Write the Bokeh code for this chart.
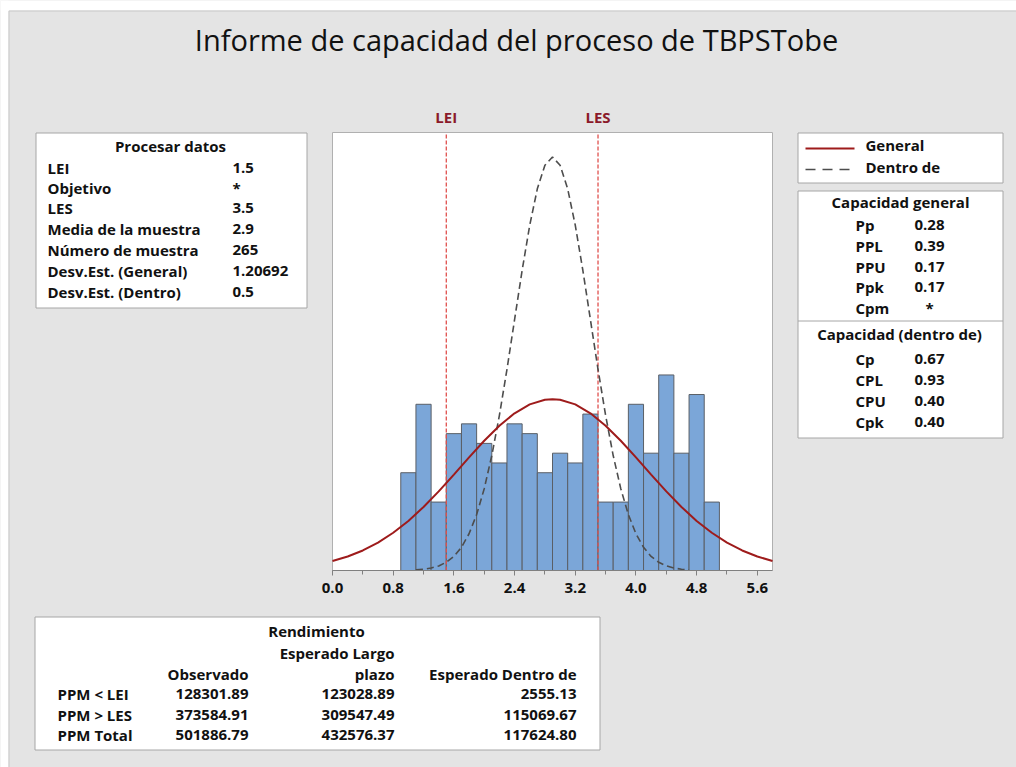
from bokeh.plotting import figure
from bokeh.models import (Range1d, LinearAxis, FixedTicker, SingleIntervalTicker,
                          NumeralTickFormatter)
from bokeh.embed import file_html
from bokeh.resources import INLINE
from bokeh.core.properties import value

# ---------------- data ----------------
title_text = "Informe de capacidad del proceso de TBPSTobe"

bin_edges = [0.9, 1.1, 1.3, 1.5, 1.7, 1.9, 2.1, 2.3, 2.5, 2.7, 2.9, 3.1,
             3.3, 3.5, 3.7, 3.9, 4.1, 4.3, 4.5, 4.7, 4.9, 5.1]
counts = [10, 17, 7, 14, 15, 13, 11, 15, 14, 10, 12, 11, 16, 7, 7, 17, 12, 20, 12, 18, 7]

spec_values = [1.5, 3.5]
spec_names = ["LEI", "LES"]

overall_x = [0.0, 0.2, 0.4, 0.6, 0.8, 1.0, 1.2, 1.4, 1.6, 1.8, 2.0, 2.2, 2.4, 2.6, 2.8, 2.9,
             3.0, 3.2, 3.4, 3.6, 3.8, 4.0, 4.2, 4.4, 4.6, 4.8, 5.0, 5.2, 5.4, 5.6, 5.8]
overall_y = [0.98, 1.43, 2.05, 2.85, 3.86, 5.07, 6.50, 8.09, 9.81, 11.57, 13.27, 14.81, 16.08,
             16.99, 17.46, 17.52, 17.46, 16.99, 16.08, 14.81, 13.27, 11.57, 9.81, 8.09, 6.50,
             5.07, 3.86, 2.85, 2.05, 1.43, 0.98]

within_x = [1.1, 1.2, 1.3, 1.4, 1.5, 1.6, 1.7, 1.8, 1.9, 2.0, 2.1, 2.2, 2.3, 2.4, 2.5, 2.6,
            2.7, 2.8, 2.9, 3.0, 3.1, 3.2, 3.3, 3.4, 3.5, 3.6, 3.7, 3.8, 3.9, 4.0, 4.1, 4.2,
            4.3, 4.4, 4.5, 4.6, 4.7]
within_y = [0.06, 0.13, 0.25, 0.47, 0.84, 1.44, 2.37, 3.76, 5.72, 8.37, 11.76, 15.87, 20.58,
            25.65, 30.71, 35.32, 39.04, 41.45, 42.29, 41.45, 39.04, 35.32, 30.71, 25.65, 20.58,
            15.87, 11.76, 8.37, 5.72, 3.76, 2.37, 1.44, 0.84, 0.47, 0.25, 0.13, 0.06]

proc_title = "Procesar datos"
proc_labels = ["LEI", "Objetivo", "LES", "Media de la muestra", "Número de muestra",
               "Desv.Est. (General)", "Desv.Est. (Dentro)"]
proc_values = ["1.5", "*", "3.5", "2.9", "265", "1.20692", "0.5"]

legend_labels = ["General", "Dentro de"]

cap_gen_title = "Capacidad general"
cap_gen_labels = ["Pp", "PPL", "PPU", "Ppk", "Cpm"]
cap_gen_values = ["0.28", "0.39", "0.17", "0.17", "*"]
cap_in_title = "Capacidad (dentro de)"
cap_in_labels = ["Cp", "CPL", "CPU", "Cpk"]
cap_in_values = ["0.67", "0.93", "0.40", "0.40"]

perf_title = "Rendimiento"
perf_headers = ["Observado", "Esperado Largo", "plazo", "Esperado Dentro de"]
perf_rows = ["PPM < LEI", "PPM > LES", "PPM Total"]
perf_obs = ["128301.89", "373584.91", "501886.79"]
perf_lt = ["123028.89", "309547.49", "432576.37"]
perf_in = ["2555.13", "115069.67", "117624.80"]

# ---------------- style / layout ----------------
BG = "#e4e4e4"
FONT = "Open Sans"
TXT = "#111111"
BOX_LINE = "#a6a6a6"
FS = "15px"
W, H = 1016, 767
FX0, FX1, FY0, FY1 = 332, 772, 132, 570      # histogram area in canvas pixels
XMAX, YMAX = 5.8, 44.8
KX = XMAX / (FX1 - FX0)
KY = YMAX / (FY1 - FY0)

# whole canvas is the frame, default ranges are canvas pixels (y downwards)
p = figure(width=W, height=H, x_range=Range1d(0, W), y_range=Range1d(H, 0),
           toolbar_location=None, output_backend="svg", min_border=0,
           x_axis_location=None, y_axis_location=None,
           background_fill_color=BG, border_fill_color=BG, outline_line_color=None)
p.grid.grid_line_color = None

# data ranges of the histogram, mapped onto its area of the canvas
p.extra_x_ranges = {"hx": Range1d(-FX0 * KX, (W - FX0) * KX)}
p.extra_y_ranges = {"hy": Range1d(-(H - FY1) * KY, FY1 * KY)}
H_KW = dict(x_range_name="hx", y_range_name="hy")


def box(l, r, t, b, fill="white", line=BOX_LINE):
    p.quad(left=[l], right=[r], top=[t], bottom=[b], fill_color=fill, line_color=line,
           line_width=1)


def seg(x0, y0, x1, y1, color=BOX_LINE, width=1, dash="solid"):
    p.line(x=[x0, x1], y=[y0, y1], line_color=color, line_width=width, line_dash=dash)


def txt(xs, ys, texts, align="left", size=FS, style="bold", color=TXT):
    p.text(x=xs, y=ys, text=texts, text_font=value(FONT), text_font_size=size,
           text_font_style=style, text_color=color, text_align=align, text_baseline="middle")


# outer white margin and panel border
box(0, 8, 0, H, fill="white", line=None)
box(0, W, 0, 10, fill="white", line=None)
seg(8.5, 10.5, 8.5, H, color="#c8c8c8")
seg(8.5, 10.5, W, 10.5, color="#c8c8c8")

# ---- histogram area ----
p.quad(left=[0], right=[XMAX], bottom=[0], top=[YMAX], fill_color="white",
       line_color="#b0b0b0", line_width=1, **H_KW)
p.quad(left=bin_edges[:-1], right=bin_edges[1:], top=counts, bottom=0,
       fill_color="#7ba6d8", line_color="#5a5f66", line_width=1, **H_KW)
for xv in spec_values:
    p.line(x=[xv, xv], y=[0, YMAX], line_color="#e0504d", line_width=1.3, line_dash="4 2",
           **H_KW)
p.line(x=within_x, y=within_y, line_color="#4d4d4d", line_width=1.6, line_dash="7 4", **H_KW)
p.line(x=overall_x, y=overall_y, line_color="#9e1b1b", line_width=2, **H_KW)

xa = LinearAxis(x_range_name="hx", fixed_location=FY1, bounds=(0, XMAX),
                ticker=SingleIntervalTicker(interval=0.8, num_minor_ticks=2),
                formatter=NumeralTickFormatter(format="0.0"))
xa.axis_line_color = "#808080"
xa.major_tick_line_color = "#808080"
xa.minor_tick_line_color = "#808080"
xa.major_tick_out = 5
xa.major_tick_in = 0
xa.minor_tick_out = 4
xa.minor_tick_in = 0
xa.major_label_text_font = FONT
xa.major_label_text_font_size = FS
xa.major_label_text_font_style = "bold"
xa.major_label_text_color = TXT
xa.major_label_standoff = 7
p.add_layout(xa, "below")

top_ax = LinearAxis(x_range_name="hx", fixed_location=FY0, bounds=(0, XMAX),
                    ticker=FixedTicker(ticks=spec_values),
                    major_label_overrides={v: n for v, n in zip(spec_values, spec_names)})
top_ax.axis_line_color = None
top_ax.major_tick_line_color = None
top_ax.minor_tick_line_color = None
top_ax.major_label_text_font = FONT
top_ax.major_label_text_font_size = FS
top_ax.major_label_text_font_style = "bold"
top_ax.major_label_text_color = "#8b1a2a"
top_ax.major_label_standoff = 0
p.add_layout(top_ax, "above")

# ---- title ----
txt([516], [39], [title_text], align="center", size="29px", style="normal")

# ---- process data box ----
box(35.5, 306.5, 132.5, 307.5)
txt([170], [145], [proc_title], align="center")
proc_y = [167, 187, 207.5, 228.5, 249, 270, 291]
txt([47] * len(proc_labels), proc_y, proc_labels)
txt([232] * len(proc_values), proc_y, proc_values)

# ---- legend box ----
box(797.5, 1002.5, 132.5, 182.5)
seg(805, 148, 854, 148, color="#9e1b1b", width=2)
seg(805, 169, 854, 169, color="#4d4d4d", width=1.6, dash="10 7")
txt([865, 865], [144.5, 166], legend_labels)

# ---- capability box ----
box(797.5, 1002.5, 190.5, 437.5)
seg(797.5, 320.5, 1002.5, 320.5)
txt([900], [201.5], [cap_gen_title], align="center")
gy = [224, 245, 266, 286.5, 307]
txt([855] * len(cap_gen_labels), gy, cap_gen_labels)
txt([929] * len(cap_gen_values), gy, cap_gen_values, align="center")
txt([899], [333.5], [cap_in_title], align="center")
iy = [358, 379.5, 400.5, 421.5]
txt([855] * len(cap_in_labels), iy, cap_in_labels)
txt([929] * len(cap_in_values), iy, cap_in_values, align="center")

# ---- performance table ----
box(34.5, 599.5, 616.5, 749.5)
txt([316], [630], [perf_title], align="center")
txt([394], [652], [perf_headers[1]], align="right")
txt([248, 394, 576], [673, 673, 673], [perf_headers[0], perf_headers[2], perf_headers[3]],
    align="right")
ry = [693, 714, 734]
txt([57] * 3, ry, perf_rows)
txt([248] * 3, ry, perf_obs, align="right")
txt([394] * 3, ry, perf_lt, align="right")
txt([576] * 3, ry, perf_in, align="right")

open("out.html", "w").write(file_html(p, INLINE))
